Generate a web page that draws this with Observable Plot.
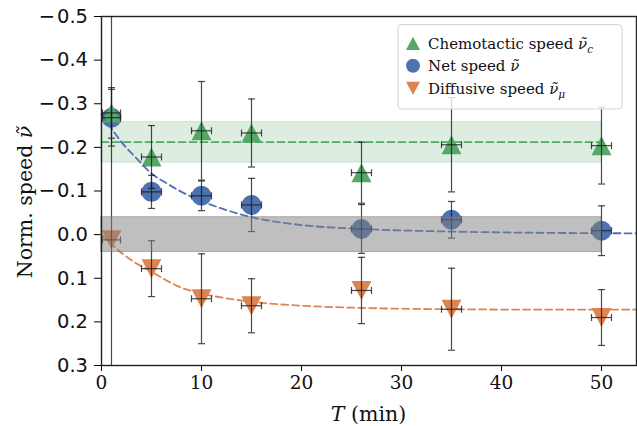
<!DOCTYPE html>
<html><head><meta charset="utf-8">
<script src="https://cdn.jsdelivr.net/npm/d3@7"></script>
<script src="https://cdn.jsdelivr.net/npm/@observablehq/plot@0.6"></script>
<style>body{margin:0;background:#fff;} #chart svg{display:block;}</style>
</head><body><div id="chart"></div>
<script>
// ---- data ----
const T = [1, 5, 10, 15, 26, 35, 50];
const tErr = [0.9, 1, 1, 1, 1, 1, 1];
const chemo = [-0.279, -0.178, -0.238, -0.233, -0.142, -0.206, -0.204];
const chemoErr = [0.058, 0.072, 0.113, 0.078, 0.070, 0.108, 0.088];
const net = [-0.268, -0.098, -0.089, -0.068, -0.013, -0.034, -0.009];
const netErr = [0.065, 0.038, 0.034, 0.061, 0.056, 0.042, 0.057];
const diffu = [0.012, 0.078, 0.147, 0.163, 0.128, 0.171, 0.190];
const diffuErr = [1.2, 0.064, 0.103, 0.062, 0.076, 0.094, 0.064];

const bandT = [0, 50];
const chemoMean = -0.212;
const chemoBandLo = -0.258, chemoBandHi = -0.165;
const netBandLo = -0.04, netBandHi = 0.04;

const netFitT = [0, 1, 2, 3.5, 5, 6.5, 8, 10, 12, 15, 20, 26, 35, 45, 53.5];
const netFit = [-0.275, -0.243, -0.212, -0.175, -0.14, -0.118, -0.098, -0.077, -0.060, -0.040, -0.022, -0.013, -0.007, -0.004, -0.003];
const diffFitT = [0, 1, 2, 3.5, 5, 6.5, 7.5, 10, 12.5, 15, 20, 26, 35, 45, 53.5];
const diffFit = [0.0, 0.022, 0.042, 0.066, 0.085, 0.105, 0.117, 0.135, 0.146, 0.154, 0.163, 0.168, 0.171, 0.172, 0.172];

const yTicks = [-0.5, -0.4, -0.3, -0.2, -0.1, 0.0, 0.1, 0.2, 0.3];
const xTicks = [0, 10, 20, 30, 40, 50];
const xDomain = [0, 53.5];
const yDomain = [0.3, -0.5];

const GREEN = "#55a868", BLUE = "#4c72b0", ORANGE = "#dd8452";

// ---- symbols ----
const triUp = {draw(ctx, size){const r = Math.sqrt(size/Math.PI); ctx.moveTo(0,-0.95*r); ctx.lineTo(r,0.95*r); ctx.lineTo(-r,0.95*r); ctx.closePath();}};
const triDown = {draw(ctx, size){const r = Math.sqrt(size/Math.PI); ctx.moveTo(0,0.95*r); ctx.lineTo(r,-0.95*r); ctx.lineTo(-r,-0.95*r); ctx.closePath();}};
const hCap = {draw(ctx){ctx.moveTo(-3.5,0); ctx.lineTo(3.5,0);}};
const vCap = {draw(ctx){ctx.moveTo(0,-3.5); ctx.lineTo(0,3.5);}};

const pts = T.map((t,i)=>({t, te:tErr[i], c:chemo[i], ce:chemoErr[i], n:net[i], ne:netErr[i], d:diffu[i], de:diffuErr[i]}));
const band = bandT.map(t=>({t}));
const netFitData = netFitT.map((t,i)=>({t, v:netFit[i]}));
const diffFitData = diffFitT.map((t,i)=>({t, v:diffFit[i]}));

const series = [
  {k:"n", e:"ne", color:BLUE, symbol:"circle"},
  {k:"c", e:"ce", color:GREEN, symbol:triUp},
  {k:"d", e:"de", color:ORANGE, symbol:triDown}
];
const EB = {stroke:"#1a1a1a", strokeOpacity:0.8, strokeWidth:1.2};
const yFmt = d => (d < 0 ? "\u2212\u200A" : "") + Math.abs(d).toFixed(1);

const marks = [
  Plot.areaY(band, {x:"t", y1:()=>chemoBandLo, y2:()=>chemoBandHi, fill:GREEN, fillOpacity:0.2, stroke:GREEN, strokeOpacity:0.2}),
  Plot.line(band, {x:"t", y:()=>chemoMean, stroke:GREEN, strokeWidth:1.8, strokeDasharray:"7,4"}),
];
for (const s of series) {
  marks.push(Plot.dot(pts, {x:"t", y:s.k, r:10, symbol:s.symbol, fill:s.color, stroke:"none"}));
}
marks.push(
  Plot.line(netFitData, {x:"t", y:"v", stroke:BLUE, strokeWidth:1.8, strokeDasharray:"7,4", curve:"monotone-x"}),
  Plot.line(diffFitData, {x:"t", y:"v", stroke:ORANGE, strokeWidth:1.8, strokeDasharray:"7,4", curve:"monotone-x"})
);
for (const s of series) {
  marks.push(
    Plot.ruleX(pts, {x:"t", y1:d=>d[s.k]-d[s.e], y2:d=>d[s.k]+d[s.e], ...EB, clip:true}),
    Plot.ruleY(pts, {y:s.k, x1:d=>d.t-d.te, x2:d=>d.t+d.te, ...EB, clip:true}),
    Plot.dot(pts, {x:"t", y:d=>d[s.k]-d[s.e], symbol:hCap, fill:"none", ...EB, clip:true}),
    Plot.dot(pts, {x:"t", y:d=>d[s.k]+d[s.e], symbol:hCap, fill:"none", ...EB, clip:true}),
    Plot.dot(pts, {x:d=>d.t-d.te, y:s.k, symbol:vCap, fill:"none", ...EB, clip:true}),
    Plot.dot(pts, {x:d=>d.t+d.te, y:s.k, symbol:vCap, fill:"none", ...EB, clip:true})
  );
}
marks.push(
  Plot.areaY(band, {x:"t", y1:()=>netBandLo, y2:()=>netBandHi, fill:"#808080", fillOpacity:0.5, stroke:"#707070", strokeOpacity:0.5}),
  // tick labels drawn as text marks through the scales
  Plot.text(yTicks, {y:d=>d, text:yFmt, frameAnchor:"left", dx:-13.5, textAnchor:"end", fontSize:19.5, fontFamily:"DejaVu Sans", fill:"#111"}),
  Plot.text(xTicks, {x:d=>d, text:d=>String(d), frameAnchor:"bottom", dy:23, fontSize:18.5, fontFamily:"DejaVu Serif", fill:"#111"}),
  Plot.frame({stroke:"#222", strokeWidth:1.4})
);

const chart = Plot.plot({
  width:637, height:426,
  marginLeft:101, marginRight:1, marginTop:16, marginBottom:61,
  x:{domain:xDomain, ticks:xTicks, tickSize:6, tickFormat:()=>"", label:null},
  y:{domain:yDomain, ticks:yTicks, tickSize:7, tickFormat:()=>"", label:null},
  marks
});
document.getElementById("chart").appendChild(chart);

const svg = d3.select(chart);

// ---- labels & legend (SVG) ----
const serif = "DejaVu Serif";
const xl = svg.append("text").attr("x", 368.5).attr("y", 421).attr("text-anchor","middle")
  .attr("font-family", serif).attr("font-size", 20.5).attr("fill","#111");
xl.append("tspan").attr("font-style","italic").text("T");
xl.append("tspan").text(" (min)");

const yl = svg.append("text").attr("transform","translate(31.5,202) rotate(-90)").attr("text-anchor","middle")
  .attr("font-family", serif).attr("font-size", 20.5).attr("fill","#111");
yl.append("tspan").text("Norm. speed ");
yl.append("tspan").attr("font-style","italic").text("\u03bd\u0303");

const lg = svg.append("g").attr("text-anchor","start");
lg.append("rect").attr("x",398).attr("y",24.5).attr("width",224).attr("height",84.5).attr("rx",4)
  .attr("fill","#fff").attr("fill-opacity",0.8).attr("stroke","#d4d4d4");
const legendItems = [
  {label:"Chemotactic speed ", sub:"c", color:GREEN, sym:triUp, cy:43.3},
  {label:"Net speed ", sub:"", color:BLUE, sym:d3.symbolCircle, cy:65.7},
  {label:"Diffusive speed ", sub:"\u03bc", color:ORANGE, sym:triDown, cy:88.3}
];
for (const it of legendItems) {
  lg.append("path").attr("transform",`translate(413,${it.cy})`)
    .attr("d", d3.symbol(it.sym, Math.PI*7*7)()).attr("fill", it.color);
  const t = lg.append("text").attr("x",428).attr("y",it.cy+5.5).attr("text-anchor","start")
    .attr("font-family",serif).attr("font-size",15).attr("fill","#111");
  t.append("tspan").text(it.label);
  t.append("tspan").attr("font-style","italic").text("\u03bd\u0303");
  if (it.sub) t.append("tspan").attr("font-style","italic").attr("font-size",10.5).attr("dy",4).text(it.sub);
}
</script>
</body></html>
